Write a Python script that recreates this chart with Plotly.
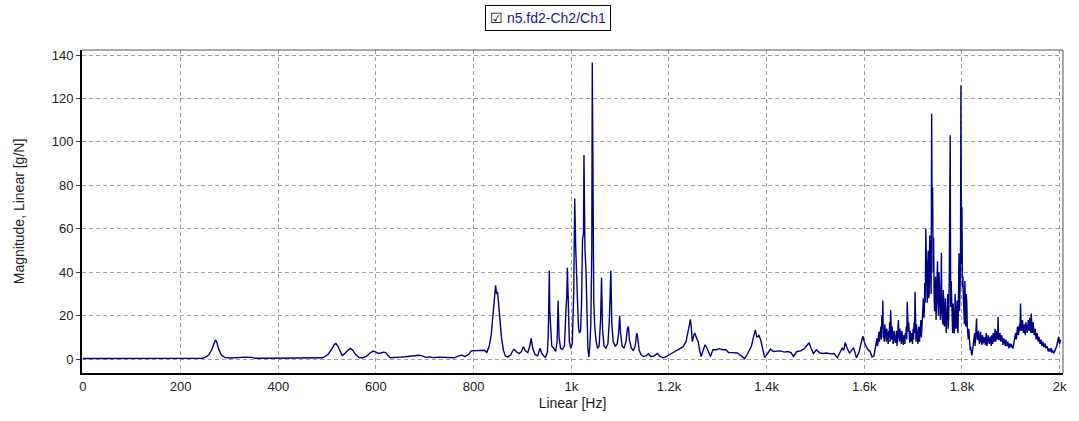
import plotly.graph_objects as go

# ---- data: (frequency [Hz], magnitude [g/N]) ----
low_band = [(0, 0.3), (50, 0.3), (100, 0.3), (150, 0.3), (200, 0.3), (245, 0.4),
            (250, 0.8), (258, 2), (264, 4.5), (268, 7.5), (271, 8.8), (274, 7.8), (278, 4.5),
            (283, 2), (290, 0.8), (300, 0.5), (310, 0.6), (320, 0.9), (335, 0.9), (347, 0.8),
            (352, 0.4), (380, 0.4), (420, 0.4), (460, 0.4), (490, 0.6)]

mid_band = [(496, 1.2), (503, 2.5), (510, 4.8), (515, 6.8), (518, 7.2), (522, 6), (527, 3.5),
            (531, 1.6), (536, 2.5), (542, 4), (548, 4.9), (552, 4.2), (558, 2.2), (565, 0.8),
            (572, 0.5), (580, 1.2), (588, 2.8), (594, 3.7), (600, 3.2), (605, 2.6), (610, 2.8),
            (615, 3.2), (620, 3), (625, 1.5), (630, 0.6), (640, 0.6), (650, 0.9), (660, 1.1),
            (670, 1.3), (680, 1.5), (688, 1.8), (695, 1.5), (702, 0.8), (710, 1), (718, 0.7),
            (728, 0.9), (740, 0.8), (750, 0.6), (760, 0.6), (770, 1.5), (776, 1.8), (782, 1.2),
            (790, 2.2), (795, 3.8), (805, 4.0), (815, 4.2), (822, 4.1), (827, 3), (832, 6),
            (836, 11), (840, 20), (843, 30), (845, 34), (847, 30), (849, 31), (851, 26),
            (854, 18), (857, 10), (861, 4), (865, 1.4), (870, 1), (876, 2), (880, 3.8),
            (883, 4.5), (887, 3.5), (893, 2.5), (898, 3.5), (902, 5.7), (906, 3.8), (911, 3),
            (915, 6), (918, 9.6), (921, 5), (926, 2), (931, 1.5), (936, 5), (939, 3),
            (943, 1.5), (947, 0.8)]

peak_band = [(951, 3), (953, 12), (955, 40.7), (956, 22), (958, 10), (960, 6), (964, 5),
             (968, 3.5), (971, 8), (973, 27), (975, 10), (978, 5), (982, 4.5), (986, 6),
             (989, 22), (991, 30), (992, 42), (994, 16), (996, 8), (999, 5), (1002, 7),
             (1005, 30), (1007, 74), (1009, 52), (1011, 33), (1013, 25), (1015, 14), (1017, 12),
             (1019, 13), (1021, 25), (1023, 55), (1025, 58), (1026, 94), (1028, 50), (1030, 42),
             (1032, 20), (1034, 5), (1036, 1), (1038, 6), (1040, 16), (1042, 50), (1043, 136.6),
             (1044, 74), (1046, 27), (1048, 15), (1051, 8), (1054, 5), (1057, 6), (1060, 18),
             (1062, 37.5), (1064, 14), (1067, 6), (1071, 5), (1075, 7), (1078, 18), (1081, 40.7),
             (1083, 16), (1086, 8), (1090, 6), (1094, 7), (1097, 12), (1099, 20), (1101, 12),
             (1104, 6), (1108, 5), (1112, 8), (1115, 14), (1117, 15), (1119, 9), (1123, 5),
             (1127, 4), (1131, 6), (1134, 12), (1136, 10), (1139, 4), (1143, 2), (1148, 1.2),
             (1153, 1.5), (1158, 2.5), (1163, 1.2), (1170, 1.5), (1176, 2.6), (1182, 1.2),
             (1188, 0.6), (1195, 1.2)]

upper_band = [(1204, 2.6), (1212, 3.5), (1220, 4.5), (1229, 5.7), (1235, 8), (1239, 12),
              (1242, 15), (1244, 18.3), (1246, 14), (1248, 8), (1251, 11), (1253, 12),
              (1256, 10), (1260, 8), (1263, 4), (1266, 1.2), (1270, 4), (1274, 6.6), (1278, 5),
              (1282, 3), (1285, 1.2), (1290, 4.3), (1297, 4.3), (1303, 4.8), (1310, 4.3),
              (1317, 4.3), (1322, 3), (1330, 3), (1340, 2.8), (1348, 1.5), (1355, 0.2),
              (1360, 2), (1364, 3.5), (1369, 6), (1373, 10), (1377, 13.4), (1380, 10),
              (1384, 11), (1388, 8.8), (1392, 4), (1396, 0.7), (1402, 2.5), (1408, 4.6),
              (1414, 3.5), (1420, 3.5), (1428, 3.8), (1436, 3.2), (1444, 3.5), (1450, 3),
              (1455, 1.2), (1462, 3.5), (1470, 3.8), (1478, 5), (1483, 6.5), (1487, 7.5),
              (1491, 5), (1496, 2.6), (1502, 4.3), (1508, 3), (1515, 2.6), (1523, 2.8),
              (1531, 2.4), (1538, 2.6), (1545, 0.6), (1550, 3), (1555, 5.2), (1558, 4),
              (1561, 7.6), (1565, 5), (1570, 2.6), (1574, 4), (1578, 5.2), (1581, 3),
              (1584, 0.6), (1589, 3), (1593, 7), (1597, 10.6), (1600, 8), (1604, 5.7),
              (1609, 4), (1612, 3.5), (1616, 1)]

noise_band = [(1620, 1.5), (1622, 4), (1624, 7), (1626, 9.5), (1628, 7), (1630, 12.6),
              (1632, 10), (1634, 15), (1636, 20), (1638, 27), (1640, 12), (1642, 16),
              (1644, 11), (1646, 14), (1648, 9), (1650, 13), (1652, 17), (1654, 22.6),
              (1656, 9), (1658, 12), (1660, 8), (1662, 11), (1664, 7.5), (1666, 13),
              (1668, 9), (1670, 18), (1672, 8), (1674, 11), (1676, 7), (1678, 10),
              (1680, 6.5), (1682, 9), (1684, 12), (1686, 15), (1688, 26.4), (1690, 12.6),
              (1692, 9), (1694, 13), (1696, 8), (1698, 10), (1700, 14), (1702, 17),
              (1704, 31), (1706, 8), (1708, 13), (1710, 7), (1712, 15), (1714, 11),
              (1716, 18), (1718, 14), (1720, 24), (1722, 19), (1724, 35), (1726, 60),
              (1728, 32), (1730, 42), (1732, 28), (1734, 57), (1736, 38), (1738, 113),
              (1740, 79), (1742, 56), (1744, 22), (1746, 38), (1748, 24), (1750, 45),
              (1752, 20), (1754, 32), (1756, 18), (1758, 49), (1760, 19.5), (1762, 31.8),
              (1764, 15), (1766, 28), (1768, 12), (1770, 25), (1772, 14), (1774, 36),
              (1776, 103), (1778, 36), (1780, 15), (1782, 25.6), (1784, 11.8), (1786, 30),
              (1788, 14), (1790, 27), (1792, 12), (1794, 48.7), (1796, 33), (1798, 126),
              (1800, 70), (1802, 38), (1804, 20), (1806, 36), (1808, 15), (1810, 26),
              (1812, 10), (1814, 14), (1816, 6), (1818, 5.7), (1820, 1.8), (1822, 4),
              (1824, 7), (1826, 12), (1828, 9), (1830, 18.7), (1832, 8.7), (1834, 13),
              (1836, 7), (1838, 12.6), (1840, 8), (1842, 11), (1844, 7.2), (1846, 10),
              (1848, 6.5), (1850, 12), (1852, 8), (1854, 11), (1856, 7), (1858, 10.3),
              (1860, 6), (1862, 9), (1864, 12), (1866, 8), (1868, 14), (1870, 9),
              (1872, 12), (1874, 19.5), (1876, 8.7), (1878, 12), (1880, 8), (1882, 10.3),
              (1884, 6.5), (1886, 9.5), (1888, 7), (1890, 9), (1892, 6), (1894, 8),
              (1896, 5), (1898, 7.2), (1900, 5.5), (1902, 6.5), (1904, 4.9), (1906, 7),
              (1908, 9), (1910, 12), (1912, 10), (1914, 15), (1916, 11), (1918, 16),
              (1920, 25.6), (1922, 13), (1924, 18), (1926, 12), (1928, 16), (1930, 11),
              (1932, 15), (1934, 12), (1936, 18), (1938, 13), (1940, 16), (1942, 21),
              (1944, 12), (1946, 17), (1948, 11), (1950, 14), (1952, 9), (1954, 12),
              (1956, 8), (1958, 10.3), (1960, 7), (1962, 9), (1964, 6), (1966, 8),
              (1968, 5.5), (1970, 7.2), (1972, 5), (1974, 6), (1976, 4), (1978, 4.9),
              (1980, 3.5), (1982, 5), (1984, 3), (1986, 4), (1988, 2.6), (1990, 3.5),
              (1992, 5), (1994, 6), (1996, 8), (1998, 10.3), (2000, 7), (2002, 9)]

noise_band_odd = [(1621, 3), (1623, 5), (1625, 8), (1627, 6), (1629, 10), (1631, 8),
                  (1633, 12), (1635, 9), (1637, 14), (1639, 10), (1641, 8), (1643, 13),
                  (1645, 8), (1647, 12), (1649, 7), (1651, 10), (1653, 8), (1655, 12),
                  (1657, 15), (1659, 7), (1661, 13), (1663, 9), (1665, 10), (1667, 6),
                  (1669, 12), (1671, 10), (1673, 14), (1675, 9), (1677, 13), (1679, 8),
                  (1681, 11), (1683, 7), (1685, 10), (1687, 9), (1689, 14), (1691, 17),
                  (1693, 7.5), (1695, 11), (1697, 12), (1699, 7), (1701, 9), (1703, 12),
                  (1705, 14), (1707, 16), (1709, 10), (1711, 12), (1713, 8), (1715, 13),
                  (1717, 10), (1719, 16), (1721, 28), (1723, 22), (1725, 26), (1727, 40),
                  (1729, 26), (1731, 50), (1733, 30), (1735, 45), (1737, 30), (1739, 62),
                  (1741, 40), (1743, 30), (1745, 27), (1747, 18), (1749, 30), (1751, 26),
                  (1753, 40), (1755, 24), (1757, 30), (1759, 22), (1761, 16), (1763, 22),
                  (1765, 20), (1767, 16), (1769, 20), (1771, 30), (1773, 20), (1775, 55),
                  (1777, 24), (1779, 28), (1781, 12), (1783, 20), (1785, 14), (1787, 20),
                  (1789, 18), (1791, 15), (1793, 30), (1795, 22), (1797, 40), (1799, 44),
                  (1801, 33), (1803, 28), (1805, 16), (1807, 22), (1809, 30), (1811, 15),
                  (1813, 9), (1815, 10), (1817, 4), (1819, 3), (1821, 2.5), (1823, 6),
                  (1825, 9), (1827, 6), (1829, 11), (1831, 10), (1833, 11), (1835, 9),
                  (1837, 8), (1839, 10), (1841, 6.5), (1843, 10), (1845, 8), (1847, 9),
                  (1849, 10), (1851, 6), (1853, 10), (1855, 8.5), (1857, 8), (1859, 9),
                  (1861, 11), (1863, 7), (1865, 10), (1867, 11), (1869, 8), (1871, 13),
                  (1873, 9), (1875, 11), (1877, 10), (1879, 9), (1881, 11), (1883, 9),
                  (1885, 8), (1887, 8), (1889, 6), (1891, 8), (1893, 7), (1895, 6.5),
                  (1897, 6), (1899, 6), (1901, 7), (1903, 5.5), (1905, 5.5), (1907, 8),
                  (1909, 10), (1911, 9), (1913, 13), (1915, 12), (1917, 14), (1919, 13),
                  (1921, 17), (1923, 14), (1925, 16), (1927, 13), (1929, 14), (1931, 17),
                  (1933, 13), (1935, 15), (1937, 14), (1939, 19), (1941, 12), (1943, 15),
                  (1945, 14), (1947, 13), (1949, 12), (1951, 11), (1953, 11), (1955, 10),
                  (1957, 9), (1959, 8.5), (1961, 8), (1963, 7), (1965, 7), (1967, 6),
                  (1969, 6.5), (1971, 6), (1973, 5.5), (1975, 5), (1977, 3.5), (1979, 4.5),
                  (1981, 4), (1983, 4.5), (1985, 3.5), (1987, 3), (1989, 3), (1991, 4),
                  (1993, 5.5), (1995, 7), (1997, 9), (1999, 8)]

x_tick_vals = [0, 200, 400, 600, 800, 1000, 1200, 1400, 1600, 1800, 2000]
x_tick_text = ["0", "200", "400", "600", "800", "1k", "1.2k", "1.4k", "1.6k", "1.8k", "2k"]
y_tick_vals = [0, 20, 40, 60, 80, 100, 120, 140]
series_name = "n5.fd2-Ch2/Ch1"

points = sorted(low_band + mid_band + peak_band + upper_band + noise_band + noise_band_odd)
freq = [p[0] for p in points]
mag = [p[1] for p in points]

font_family = "Liberation Sans, Arial, sans-serif"

fig = go.Figure()
fig.add_trace(go.Scatter(x=freq, y=mag, mode="lines", name=series_name,
                         line=dict(color="#000080", width=1.4), showlegend=False))

grid = dict(showgrid=True, gridcolor="#a0a0a0", gridwidth=1, griddash="4px,3px", zeroline=False)

fig.update_layout(
    width=1079, height=421,
    margin=dict(l=82, r=13, t=50, b=48),
    paper_bgcolor="white", plot_bgcolor="white",
    font=dict(family=font_family, size=13, color="#222222"),
    xaxis=dict(range=[-2, 2007], tickvals=x_tick_vals, ticktext=x_tick_text,
               ticks="", showline=True, linecolor="black", linewidth=2,
               title=dict(text="Linear [Hz]", standoff=6, font=dict(size=14)),
               tickfont=dict(size=13), **grid),
    yaxis=dict(range=[-6.4, 142.3], tickvals=y_tick_vals, ticks="outside", ticklen=4,
               tickcolor="#444", showline=True, linecolor="black", linewidth=2,
               title=dict(text="Magnitude, Linear [g/N]", standoff=24, font=dict(size=14)),
               tickfont=dict(size=13), **grid),
    shapes=[
        dict(type="line", xref="paper", yref="paper", x0=0, x1=1, y0=1, y1=1,
             line=dict(color="#555555", width=1)),
        dict(type="line", xref="paper", yref="paper", x0=1, x1=1, y0=0, y1=1,
             line=dict(color="#555555", width=1)),
    ],
    annotations=[
        dict(xref="paper", yref="paper", x=(549 - 82) / 984, y=(373 - 18) / 323,
             xanchor="center", yanchor="middle", showarrow=False,
             text="<span style='color:black'>☑</span> " + series_name,
             font=dict(family=font_family, size=14, color="#1a1a8c"),
             bordercolor="black", borderwidth=1, borderpad=4, bgcolor="white"),
    ],
)

fig.write_html("out.html")
